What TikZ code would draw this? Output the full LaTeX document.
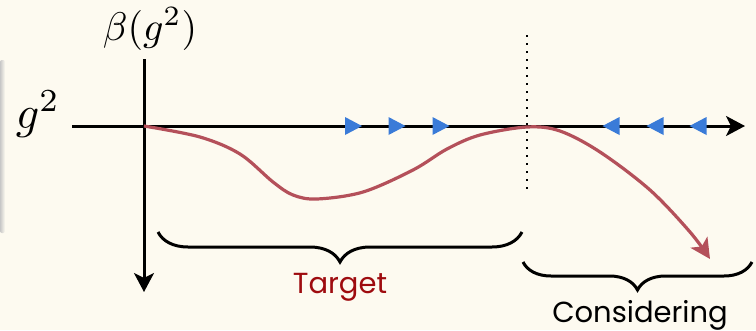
\documentclass[tikz,border=0pt]{standalone}
\usepackage{fontspec}
\setmainfont{Poppins}
\usetikzlibrary{arrows.meta,decorations.pathreplacing}
\definecolor{bgc}{HTML}{FDFAF0}
\definecolor{curvec}{HTML}{B4505A}
\definecolor{flowc}{HTML}{3A7BD8}
\definecolor{targetc}{HTML}{9E0B0F}
\tikzset{
  axisline/.style={line width=3pt, -{Stealth[length=19pt,width=20pt,inset=5pt]}},
  betacurve/.style={curvec, line width=3.2pt, -{Stealth[length=20pt,width=20pt,inset=5pt]}},
  bracestyle/.style={line width=3pt, decorate, decoration={brace,mirror,amplitude=#1}},
  rtri/.pic={\fill[flowc] (-8.5,-9) -- (8.5,0) -- (-8.5,9) -- cycle;},
  ltri/.pic={\fill[flowc] (8.5,-9) -- (-8.5,0) -- (8.5,9) -- cycle;},
  lbl/.style={inner sep=0pt, anchor=base}
}
\begin{document}
\begin{tikzpicture}[x=1pt,y=-1pt]
\fill[bgc] (0,0) rectangle (756,330);
\useasboundingbox (0,0) rectangle (756,330);
% left panel edge shadow
\shade[left color=black!22, right color=bgc, rounded corners=2pt] (0,60) rectangle (5,233);
% axes
\coordinate (hstart) at (72,126);
\coordinate (hend) at (745,126);
\coordinate (vstart) at (144,59);
\coordinate (vend) at (144,292);
\draw[axisline] (hstart) -- (hend);
\draw[axisline] (vstart) -- (vend);
% labels
\node[lbl, scale=4.6] (gsq) at (38,128) {$g^2$};
\node[lbl, scale=4.0] (beta) at (150,40) {$\beta(g^2)$};
% dotted separator
\coordinate (dtop) at (527,35);
\coordinate (dbot) at (527,194);
\draw[line width=2pt, dash pattern=on 2pt off 6pt] (dtop) -- (dbot);
% beta function curve
\draw[betacurve] plot[smooth, tension=0.55] coordinates {(144,126) (200,137) (240,154) (273,182) (293,195) (317,199) (363,192) (413,170) (447,149) (480,135) (527,127) (560,131) (600,152) (650,190) (690,232) (710,259)};
% flow triangles
\pic at (353.5,126) {rtri};
\pic at (397,126) {rtri};
\pic at (441,126) {rtri};
\pic at (611,126) {ltri};
\pic at (655,126) {ltri};
\pic at (698,126) {ltri};
% braces
\coordinate (tb1) at (158,232);
\coordinate (tb2) at (522,232);
\draw[bracestyle=30pt] (tb1) -- (tb2);
\coordinate (cb1) at (523,262);
\coordinate (cb2) at (752,262);
\draw[bracestyle=28pt] (cb1) -- (cb2);
\node[lbl, text=targetc, font=\fontsize{29}{29}\selectfont] (target) at (340,293) {Target};
\node[lbl, font=\fontsize{29}{29}\selectfont] (cons) at (640,322) {Considering};
\end{tikzpicture}
\end{document}
